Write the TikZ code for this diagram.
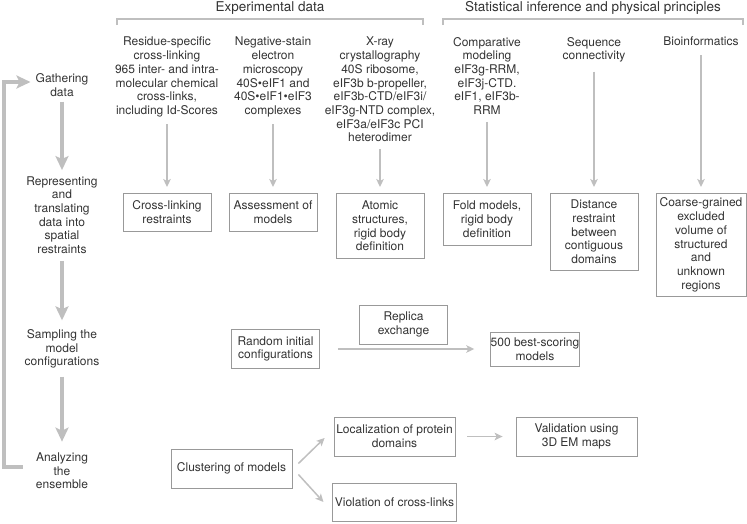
\documentclass[tikz,border=0pt]{standalone}
\usepackage{fontspec}
\setmainfont{TeX Gyre Heros}
\usetikzlibrary{arrows.meta}
\colorlet{arrowgray}{black!25}
\colorlet{boxgray}{black!40}
\colorlet{inkdark}{black!80}
\newcommand{\bodyfont}{\fontsize{12}{13.7}\selectfont}
\newcommand{\headfont}{\fontsize{13.5}{15}\selectfont}
\tikzset{
  stagetxt/.style={align=center, inner sep=0pt, font=\bodyfont, text=inkdark},
  srctxt/.style={stagetxt, anchor=north},
  resbox/.style={draw=boxgray, line width=0.8pt, align=center, font=\bodyfont,
    text=inkdark, inner xsep=2pt, inner ysep=3pt, minimum width=88pt},
  bigarrow/.style={draw=arrowgray, line width=3.2pt,
    -{Stealth[length=14pt,width=13pt,inset=3pt]}},
  thinarrow/.style={draw=arrowgray, line width=1.5pt,
    -{Stealth[length=8pt,width=7.5pt,inset=2pt]}, shorten <=7pt, shorten >=6pt},
  bracket/.style={draw=arrowgray, line width=1.6pt}
}

\begin{document}
\begin{tikzpicture}[x=1pt,y=-1pt]
\useasboundingbox (0,0) rectangle (747,523);
% headers
\node[font=\headfont, text=inkdark] (hexp) at (270,8) {Experimental data};
\node[font=\headfont, text=inkdark] (hstat) at (593,8) {Statistical inference and physical principles};
\draw[bracket] (117,25) -- (117,19) -- (423,19) -- (423,25);
\draw[bracket] (443,25) -- (443,19) -- (743,19) -- (743,25);
% stages
\node[stagetxt] (gather) at (62,85) {Gathering\\data};
\node[stagetxt] (repr) at (62,215) {Representing\\and\\translating\\data into\\spatial\\restraints};
\node[stagetxt] (sample) at (62,349) {Sampling the\\model\\configurations};
\node[stagetxt] (analyze) at (62,471) {Analyzing\\the\\ensemble};
\draw[bigarrow, shorten <=5pt, shorten >=6pt] (gather) -- (repr);
\draw[bigarrow, shorten <=7pt, shorten >=9pt] (repr) -- (sample);
\draw[bigarrow, shorten <=8pt, shorten >=11pt] (sample) -- (analyze);
\coordinate (lbot) at (4,467);
\coordinate (ltop) at (4,82);
\draw[bigarrow, shorten <=13pt, shorten >=5pt] (lbot -| analyze.west) -- (lbot) -- (ltop) -- (ltop -| gather.west);
% data sources
\node[srctxt] (xl) at (167,37) {Residue-specific\\cross-linking\\965 inter- and intra-\\molecular chemical\\cross-links,\\including Id-Scores};
\node[srctxt] (em) at (273,37) {Negative-stain\\electron\\microscopy\\40S\textbullet eIF1 and\\40S\textbullet eIF1\textbullet eIF3\\complexes};
\node[srctxt] (xray) at (380,37) {X-ray\\crystallography\\40S ribosome,\\eIF3b b-propeller,\\eIF3b-CTD/eIF3i/\\eIF3g-NTD complex,\\eIF3a/eIF3c PCI\\heterodimer};
\node[srctxt] (comp) at (487,37) {Comparative\\modeling\\eIF3g-RRM,\\eIF3j-CTD.\\eIF1, eIF3b-\\RRM};
\node[srctxt] (seq) at (594,37) {Sequence\\connectivity};
\node[srctxt] (bio) at (701,37) {Bioinformatics};
% restraints
\node[resbox, anchor=north, minimum height=38pt] (xlbox) at (167,193) {Cross-linking\\restraints};
\node[resbox, anchor=north, minimum height=38pt] (embox) at (273,193) {Assessment of\\models};
\node[resbox, anchor=north, minimum height=65pt] (xraybox) at (380,193) {Atomic\\structures,\\rigid body\\definition};
\node[resbox, anchor=north, minimum height=52pt] (compbox) at (487,193) {Fold models,\\rigid body\\definition};
\node[resbox, anchor=north, minimum height=77pt] (seqbox) at (594,193) {Distance\\restraint\\between\\contiguous\\domains};
\node[resbox, anchor=north, minimum height=103pt, minimum width=90pt] (biobox) at (701,193) {Coarse-grained\\excluded\\volume of\\structured\\and\\unknown\\regions};
\draw[thinarrow] (xl) -- (xlbox);
\draw[thinarrow] (em) -- (embox);
\draw[thinarrow] (xray) -- (xraybox);
\draw[thinarrow] (comp) -- (compbox);
\draw[thinarrow, shorten <=9pt] (seq) -- (seqbox);
\draw[thinarrow, shorten <=9pt] (bio) -- (biobox);
% sampling
\node[resbox, minimum height=39pt] (init) at (275.5,349) {Random initial\\configurations};
\node[resbox, minimum height=39pt] (replica) at (403.5,324.5) {Replica\\exchange};
\node[resbox, inner xsep=0pt, minimum height=34pt] (best) at (535,349) {500 best-scoring\\models};
\draw[thinarrow, shorten <=18pt, shorten >=16pt] (init) -- (best);
% analysis
\node[resbox, minimum width=121pt, minimum height=39pt] (cluster) at (231.5,468.5) {Clustering of models};
\node[resbox, minimum width=121pt, minimum height=39pt] (local) at (394.5,436.5) {Localization of protein\\domains};
\node[resbox, minimum width=121pt, minimum height=38pt] (violate) at (394.5,502) {Violation of cross-links};
\node[resbox, minimum width=121pt, minimum height=39pt] (valid) at (576.5,436.5) {Validation using\\3D EM maps};
\draw[thinarrow, shorten <=0pt, shorten >=0pt] ([shift={(6,-5)}]cluster.east) -- ([shift={(-9,1.5)}]local.west);
\draw[thinarrow, shorten <=0pt, shorten >=0pt] ([shift={(6,6)}]cluster.east) -- ([shift={(-9,0)}]violate.west);
\draw[thinarrow, shorten <=12pt, shorten >=13pt] (local) -- (valid);
\end{tikzpicture}
\end{document}
